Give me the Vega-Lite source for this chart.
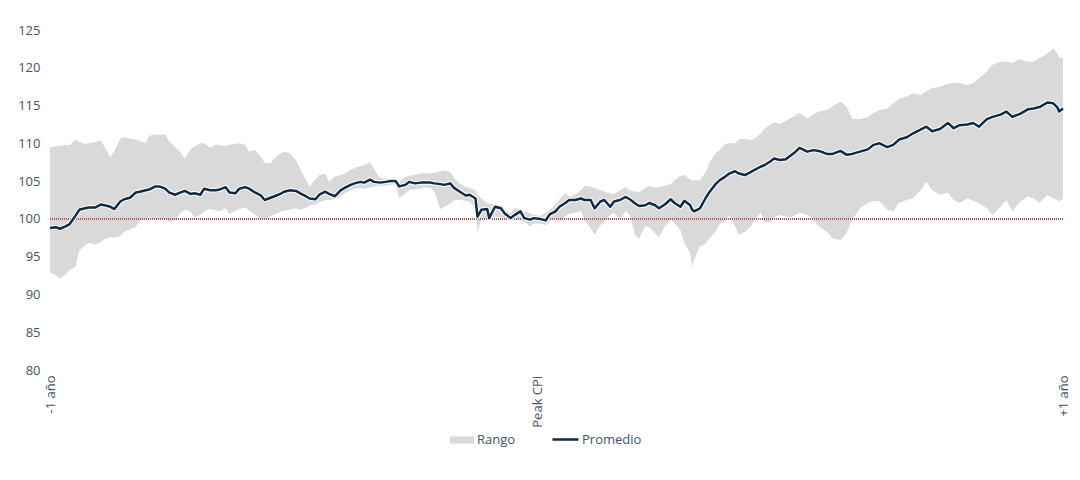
{
  "$schema": "https://vega.github.io/schema/vega-lite/v6.json",
  "width": 1013,
  "height": 340,
  "autosize": {"type": "none"},
  "padding": {"left": 50, "top": 30, "right": 17, "bottom": 110},
  "background": "white",
  "config": {
    "view": {"stroke": null},
    "font": "Open Sans",
    "axis": {"labelColor": "#44546A", "labelFontSize": 13, "grid": false, "domain": false, "ticks": false, "title": null},
    "axisY": {"tickCount": 10, "labelOverlap": false, "labelPadding": 10, "labelFlush": false},
    "legend": {"labelColor": "#44546A", "labelFontSize": 13}
  },
  "data": {"values": [
    {"d":-250,"lo":92.9,"avg":98.8,"hi":109.4},
    {"d":-247,"lo":92.5,"avg":98.9,"hi":109.6},
    {"d":-245,"lo":92.1,"avg":98.7,"hi":109.6},
    {"d":-242,"lo":92.6,"avg":99.0,"hi":109.8},
    {"d":-240,"lo":93.2,"avg":99.3,"hi":109.7},
    {"d":-237,"lo":93.7,"avg":100.4,"hi":110.5},
    {"d":-235,"lo":95.8,"avg":101.2,"hi":110.2},
    {"d":-232,"lo":96.5,"avg":101.4,"hi":109.9},
    {"d":-230,"lo":96.8,"avg":101.5,"hi":110.0},
    {"d":-227,"lo":96.6,"avg":101.5,"hi":110.2},
    {"d":-224,"lo":96.9,"avg":101.9,"hi":110.4},
    {"d":-222,"lo":97.3,"avg":101.8,"hi":109.5},
    {"d":-219,"lo":97.6,"avg":101.6,"hi":108.2},
    {"d":-217,"lo":97.5,"avg":101.3,"hi":109.0},
    {"d":-214,"lo":97.7,"avg":102.3,"hi":110.6},
    {"d":-212,"lo":98.3,"avg":102.6,"hi":110.8},
    {"d":-209,"lo":98.6,"avg":102.8,"hi":110.6},
    {"d":-206,"lo":99.0,"avg":103.5,"hi":110.5},
    {"d":-204,"lo":99.7,"avg":103.6,"hi":110.3},
    {"d":-201,"lo":100.0,"avg":103.8,"hi":110.0},
    {"d":-199,"lo":100.1,"avg":103.9,"hi":111.0},
    {"d":-196,"lo":100.1,"avg":104.3,"hi":111.2},
    {"d":-194,"lo":100.0,"avg":104.3,"hi":111.1},
    {"d":-191,"lo":100.0,"avg":104.0,"hi":111.2},
    {"d":-189,"lo":99.6,"avg":103.5,"hi":110.3},
    {"d":-186,"lo":99.8,"avg":103.2,"hi":109.5},
    {"d":-183,"lo":100.8,"avg":103.5,"hi":108.8},
    {"d":-181,"lo":101.2,"avg":103.7,"hi":108.0},
    {"d":-178,"lo":101.0,"avg":103.3,"hi":109.2},
    {"d":-176,"lo":100.2,"avg":103.4,"hi":109.6},
    {"d":-173,"lo":100.5,"avg":103.2,"hi":110.0},
    {"d":-171,"lo":101.0,"avg":104.0,"hi":110.0},
    {"d":-168,"lo":101.3,"avg":103.8,"hi":109.4},
    {"d":-165,"lo":101.1,"avg":103.8,"hi":109.8},
    {"d":-163,"lo":101.0,"avg":103.9,"hi":109.8},
    {"d":-160,"lo":101.4,"avg":104.2,"hi":109.6},
    {"d":-158,"lo":100.6,"avg":103.5,"hi":109.8},
    {"d":-155,"lo":101.1,"avg":103.4,"hi":109.9},
    {"d":-153,"lo":101.3,"avg":104.0,"hi":110.0},
    {"d":-150,"lo":101.5,"avg":104.2,"hi":109.8},
    {"d":-148,"lo":101.1,"avg":104.0,"hi":108.9},
    {"d":-145,"lo":100.5,"avg":103.5,"hi":109.1},
    {"d":-142,"lo":100.0,"avg":103.1,"hi":108.2},
    {"d":-140,"lo":99.9,"avg":102.5,"hi":107.4},
    {"d":-137,"lo":100.3,"avg":102.8,"hi":107.4},
    {"d":-135,"lo":100.6,"avg":103.0,"hi":108.0},
    {"d":-132,"lo":100.9,"avg":103.3,"hi":108.7},
    {"d":-130,"lo":101.1,"avg":103.6,"hi":108.9},
    {"d":-127,"lo":101.2,"avg":103.8,"hi":108.7},
    {"d":-124,"lo":101.4,"avg":103.7,"hi":107.8},
    {"d":-122,"lo":101.2,"avg":103.4,"hi":106.7},
    {"d":-119,"lo":101.4,"avg":103.0,"hi":105.2},
    {"d":-117,"lo":101.8,"avg":102.7,"hi":104.3},
    {"d":-114,"lo":101.9,"avg":102.6,"hi":105.2},
    {"d":-112,"lo":102.2,"avg":103.2,"hi":105.8},
    {"d":-109,"lo":102.5,"avg":103.6,"hi":106.0},
    {"d":-107,"lo":102.5,"avg":103.3,"hi":104.9},
    {"d":-104,"lo":102.6,"avg":103.0,"hi":105.6},
    {"d":-101,"lo":103.0,"avg":103.8,"hi":105.8},
    {"d":-99,"lo":103.4,"avg":104.1,"hi":106.0},
    {"d":-96,"lo":103.8,"avg":104.5,"hi":106.5},
    {"d":-94,"lo":104.0,"avg":104.7,"hi":106.7},
    {"d":-91,"lo":104.1,"avg":104.9,"hi":107.0},
    {"d":-89,"lo":104.0,"avg":104.8,"hi":107.1},
    {"d":-86,"lo":104.2,"avg":105.2,"hi":107.5},
    {"d":-84,"lo":104.3,"avg":104.9,"hi":106.6},
    {"d":-81,"lo":104.4,"avg":104.8,"hi":105.4},
    {"d":-78,"lo":104.4,"avg":104.9,"hi":105.3},
    {"d":-76,"lo":104.5,"avg":105.0,"hi":105.3},
    {"d":-73,"lo":104.6,"avg":105.0,"hi":105.2},
    {"d":-71,"lo":102.7,"avg":104.3,"hi":104.9},
    {"d":-68,"lo":103.4,"avg":104.5,"hi":105.5},
    {"d":-66,"lo":103.8,"avg":104.9,"hi":105.7},
    {"d":-63,"lo":103.9,"avg":104.7,"hi":105.8},
    {"d":-60,"lo":104.0,"avg":104.8,"hi":106.0},
    {"d":-58,"lo":104.2,"avg":104.8,"hi":106.0},
    {"d":-55,"lo":104.1,"avg":104.8,"hi":106.0},
    {"d":-53,"lo":103.5,"avg":104.7,"hi":106.1},
    {"d":-50,"lo":101.3,"avg":104.6,"hi":106.3},
    {"d":-48,"lo":101.6,"avg":104.5,"hi":106.4},
    {"d":-45,"lo":102.0,"avg":104.7,"hi":106.2},
    {"d":-43,"lo":102.5,"avg":104.1,"hi":105.4},
    {"d":-40,"lo":102.5,"avg":103.6,"hi":104.7},
    {"d":-37,"lo":102.4,"avg":103.1,"hi":104.2},
    {"d":-35,"lo":102.3,"avg":103.2,"hi":104.1},
    {"d":-32,"lo":101.4,"avg":102.7,"hi":103.8},
    {"d":-31,"lo":98.3,"avg":100.3,"hi":103.2},
    {"d":-29,"lo":99.9,"avg":101.2,"hi":102.7},
    {"d":-26,"lo":99.9,"avg":101.3,"hi":102.1},
    {"d":-25,"lo":99.9,"avg":100.1,"hi":102.0},
    {"d":-22,"lo":100.3,"avg":101.6,"hi":101.9},
    {"d":-19,"lo":100.2,"avg":101.4,"hi":101.8},
    {"d":-17,"lo":100.1,"avg":100.7,"hi":101.1},
    {"d":-14,"lo":100.0,"avg":100.1,"hi":100.7},
    {"d":-12,"lo":99.9,"avg":100.5,"hi":101.4},
    {"d":-9,"lo":99.9,"avg":101.0,"hi":101.3},
    {"d":-7,"lo":99.6,"avg":100.1,"hi":101.0},
    {"d":-4,"lo":99.0,"avg":99.9,"hi":100.7},
    {"d":-2,"lo":99.4,"avg":100.1,"hi":100.5},
    {"d":1,"lo":99.4,"avg":100.0,"hi":100.4},
    {"d":4,"lo":99.2,"avg":99.8,"hi":100.7},
    {"d":6,"lo":99.7,"avg":100.6,"hi":101.2},
    {"d":9,"lo":100.2,"avg":101.0,"hi":101.9},
    {"d":11,"lo":99.6,"avg":101.6,"hi":102.6},
    {"d":14,"lo":100.3,"avg":102.1,"hi":103.4},
    {"d":16,"lo":100.7,"avg":102.5,"hi":102.9},
    {"d":19,"lo":100.8,"avg":102.5,"hi":103.2},
    {"d":22,"lo":101.0,"avg":102.7,"hi":103.8},
    {"d":24,"lo":99.8,"avg":102.5,"hi":104.4},
    {"d":27,"lo":98.8,"avg":102.5,"hi":104.3},
    {"d":29,"lo":97.9,"avg":101.4,"hi":104.1},
    {"d":32,"lo":99.2,"avg":102.3,"hi":103.8},
    {"d":34,"lo":99.6,"avg":102.5,"hi":103.6},
    {"d":37,"lo":100.5,"avg":101.6,"hi":103.4},
    {"d":39,"lo":100.8,"avg":102.3,"hi":103.3},
    {"d":42,"lo":99.9,"avg":102.5,"hi":103.8},
    {"d":45,"lo":101.0,"avg":102.9,"hi":104.2},
    {"d":47,"lo":100.5,"avg":102.6,"hi":103.8},
    {"d":50,"lo":97.7,"avg":102.0,"hi":103.6},
    {"d":52,"lo":97.4,"avg":101.7,"hi":103.6},
    {"d":55,"lo":99.1,"avg":101.8,"hi":104.1},
    {"d":57,"lo":98.9,"avg":102.1,"hi":104.4},
    {"d":60,"lo":98.1,"avg":101.8,"hi":104.2},
    {"d":62,"lo":97.6,"avg":101.4,"hi":104.2},
    {"d":65,"lo":99.0,"avg":101.9,"hi":104.4},
    {"d":68,"lo":99.9,"avg":102.6,"hi":104.6},
    {"d":70,"lo":99.4,"avg":102.1,"hi":105.1},
    {"d":73,"lo":98.5,"avg":101.6,"hi":105.7},
    {"d":75,"lo":96.8,"avg":102.4,"hi":105.8},
    {"d":78,"lo":95.5,"avg":101.8,"hi":105.2},
    {"d":79,"lo":93.7,"avg":101.2,"hi":105.1},
    {"d":80,"lo":94.5,"avg":101.0,"hi":105.1},
    {"d":83,"lo":96.4,"avg":101.4,"hi":105.1},
    {"d":86,"lo":96.7,"avg":102.8,"hi":106.2},
    {"d":88,"lo":97.5,"avg":103.6,"hi":107.5},
    {"d":91,"lo":98.3,"avg":104.6,"hi":108.7},
    {"d":93,"lo":99.3,"avg":105.1,"hi":109.1},
    {"d":96,"lo":99.8,"avg":105.6,"hi":109.9},
    {"d":98,"lo":100.4,"avg":106.0,"hi":110.0},
    {"d":101,"lo":99.0,"avg":106.3,"hi":110.0},
    {"d":103,"lo":97.9,"avg":106.0,"hi":110.5},
    {"d":106,"lo":98.3,"avg":105.8,"hi":110.6},
    {"d":109,"lo":99.0,"avg":106.2,"hi":110.4},
    {"d":111,"lo":99.9,"avg":106.5,"hi":110.6},
    {"d":114,"lo":100.8,"avg":106.9,"hi":111.3},
    {"d":116,"lo":99.6,"avg":107.1,"hi":111.9},
    {"d":119,"lo":99.6,"avg":107.6,"hi":112.5},
    {"d":121,"lo":100.2,"avg":108.0,"hi":112.8},
    {"d":124,"lo":100.5,"avg":107.8,"hi":112.6},
    {"d":127,"lo":100.3,"avg":107.9,"hi":113.0},
    {"d":129,"lo":100.2,"avg":108.3,"hi":113.3},
    {"d":132,"lo":100.5,"avg":108.9,"hi":113.7},
    {"d":134,"lo":100.8,"avg":109.4,"hi":114.0},
    {"d":138,"lo":100.5,"avg":108.9,"hi":113.3},
    {"d":141,"lo":99.9,"avg":109.1,"hi":113.8},
    {"d":144,"lo":99.0,"avg":109.0,"hi":114.2},
    {"d":148,"lo":98.3,"avg":108.6,"hi":114.4},
    {"d":151,"lo":97.4,"avg":108.6,"hi":114.9},
    {"d":155,"lo":97.2,"avg":109.0,"hi":115.5},
    {"d":158,"lo":98.1,"avg":108.5,"hi":114.9},
    {"d":161,"lo":99.9,"avg":108.6,"hi":113.3},
    {"d":165,"lo":101.4,"avg":108.9,"hi":113.2},
    {"d":169,"lo":102.1,"avg":109.2,"hi":113.5},
    {"d":172,"lo":102.4,"avg":109.8,"hi":114.0},
    {"d":175,"lo":102.3,"avg":110.0,"hi":114.4},
    {"d":179,"lo":101.2,"avg":109.5,"hi":114.6},
    {"d":182,"lo":101.0,"avg":109.8,"hi":115.3},
    {"d":185,"lo":102.1,"avg":110.5,"hi":115.9},
    {"d":189,"lo":102.5,"avg":110.8,"hi":116.2},
    {"d":192,"lo":102.7,"avg":111.3,"hi":116.6},
    {"d":196,"lo":103.8,"avg":111.8,"hi":116.4},
    {"d":199,"lo":104.9,"avg":112.2,"hi":116.9},
    {"d":202,"lo":103.8,"avg":111.6,"hi":117.3},
    {"d":206,"lo":103.2,"avg":111.9,"hi":117.5},
    {"d":210,"lo":103.5,"avg":112.7,"hi":117.9},
    {"d":213,"lo":102.5,"avg":112.0,"hi":118.0},
    {"d":216,"lo":102.1,"avg":112.4,"hi":118.0},
    {"d":220,"lo":102.7,"avg":112.5,"hi":117.7},
    {"d":223,"lo":102.4,"avg":112.7,"hi":118.0},
    {"d":226,"lo":102.1,"avg":112.2,"hi":118.6},
    {"d":230,"lo":101.4,"avg":113.2,"hi":119.5},
    {"d":233,"lo":100.5,"avg":113.5,"hi":120.4},
    {"d":237,"lo":101.6,"avg":113.8,"hi":120.8},
    {"d":240,"lo":102.5,"avg":114.2,"hi":120.8},
    {"d":243,"lo":101.0,"avg":113.5,"hi":120.7},
    {"d":247,"lo":102.3,"avg":113.9,"hi":121.1},
    {"d":251,"lo":103.0,"avg":114.5,"hi":120.8},
    {"d":254,"lo":102.7,"avg":114.6,"hi":120.8},
    {"d":257,"lo":102.1,"avg":114.8,"hi":121.3},
    {"d":261,"lo":103.2,"avg":115.4,"hi":121.9},
    {"d":264,"lo":102.7,"avg":115.3,"hi":122.6},
    {"d":266,"lo":102.5,"avg":114.8,"hi":121.9},
    {"d":267,"lo":102.3,"avg":114.2,"hi":121.4},
    {"d":269,"lo":102.7,"avg":114.6,"hi":121.3}
  ]},
  "encoding": {
    "x": {
      "field": "d", "type": "quantitative",
      "scale": {"domain": [-250, 269], "nice": false, "zero": false},
      "axis": {
        "values": [-250, 0, 269],
        "labelExpr": "datum.value == -250 ? '-1 año' : datum.value == 0 ? 'Peak CPI' : '+1 año'",
        "labelAngle": -90, "labelPadding": 5, "labelFlush": false, "labelOverlap": false, "labelBound": false
      }
    }
  },
  "layer": [
    {
      "mark": {"type": "area", "opacity": 1},
      "encoding": {
        "y": {"field": "lo", "type": "quantitative",
          "scale": {"domain": [80, 125], "nice": false, "zero": false},
          "axis": {"values": [80, 85, 90, 95, 100, 105, 110, 115, 120, 125]}},
        "y2": {"field": "hi"},
        "fill": {
          "datum": "Rango",
          "scale": {"domain": ["Rango"], "range": ["#D9D9D9"]},
          "legend": {
            "title": null, "orient": "none", "direction": "horizontal",
            "legendX": 400, "legendY": 398,
            "symbolType": "M-1,-0.3H1V0.3H-1Z", "symbolSize": 576, "symbolOpacity": 1,
            "symbolStrokeWidth": 0, "labelOffset": 3
          }
        }
      }
    },
    {
      "mark": {"type": "rule", "color": "#C0504D", "strokeWidth": 1, "strokeDash": [1, 1]},
      "encoding": {"y": {"datum": 100}, "x": {"value": 0}, "x2": {"value": 1013}}
    },
    {
      "mark": {"type": "line", "color": "white", "strokeWidth": 4.5, "strokeJoin": "round"},
      "encoding": {"y": {"field": "avg", "type": "quantitative"}}
    },
    {
      "mark": {"type": "line", "strokeWidth": 2.5, "strokeJoin": "round"},
      "encoding": {
        "y": {"field": "avg", "type": "quantitative"},
        "stroke": {
          "datum": "Promedio",
          "scale": {"domain": ["Promedio"], "range": ["#0F2A44"]},
          "legend": {
            "title": null, "orient": "none", "direction": "horizontal",
            "legendX": 501, "legendY": 395,
            "symbolType": "stroke", "symbolSize": 676, "symbolStrokeWidth": 2.5, "labelOffset": 2
          }
        }
      }
    }
  ]
}
